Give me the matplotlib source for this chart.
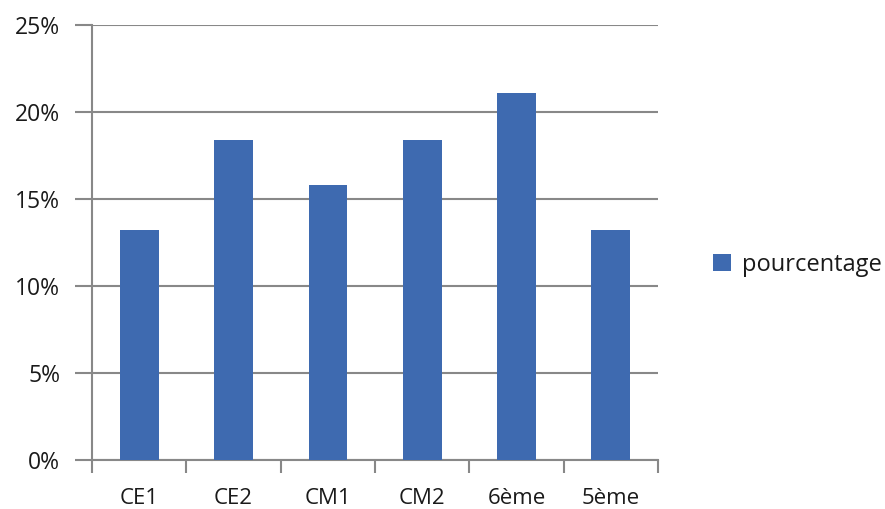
import matplotlib.pyplot as plt
from matplotlib.ticker import FuncFormatter, MultipleLocator

categories = ['CE1', 'CE2', 'CM1', 'CM2', '6ème', '5ème']
pourcentage = [13.2, 18.4, 15.8, 18.4, 21.1, 13.2]

plt.rcParams['font.family'] = ['Open Sans', 'DejaVu Sans']

fig = plt.figure(figsize=(8.85, 5.09), dpi=100)
ax = fig.add_axes([0.104, 0.0963, 0.6395, 0.855])

x = range(len(categories))
ax.bar(x, pourcentage, width=0.41, color='#3E6AB0', label='pourcentage', zorder=3)

ax.set_xlim(-0.5, len(categories) - 0.5)
ax.set_ylim(0, 25)
ax.yaxis.set_major_locator(MultipleLocator(5))
ax.yaxis.set_major_formatter(FuncFormatter(lambda v, p: f'{v:.0f}%'))
ax.grid(axis='y', color='#888888', linewidth=1.5, zorder=0)

ax.set_xticks([i + 0.5 for i in range(-1, len(categories))])
ax.set_xticklabels([])
ax.set_xticks(list(x), minor=True)
ax.set_xticklabels(categories, minor=True)
ax.tick_params(axis='x', which='major', length=9, width=1.5, color='#888888', direction='out')
ax.tick_params(axis='x', which='minor', length=0, pad=20, labelsize=16, labelcolor='#1a1a1a')
ax.tick_params(axis='y', length=12, width=1.5, color='#888888', labelsize=16.5,
               labelcolor='#1a1a1a', pad=11)

for s in ['top', 'right']:
    ax.spines[s].set_visible(False)
for s in ['left', 'bottom']:
    ax.spines[s].set_color('#888888')
    ax.spines[s].set_linewidth(1.5)

fig.legend(loc='center left', bbox_to_anchor=(0.782, 0.48), frameon=False,
           fontsize=17, handlelength=0.75, handleheight=0.75, handletextpad=0.45,
           labelcolor='#1a1a1a')

fig.savefig('out.png', dpi=100)
